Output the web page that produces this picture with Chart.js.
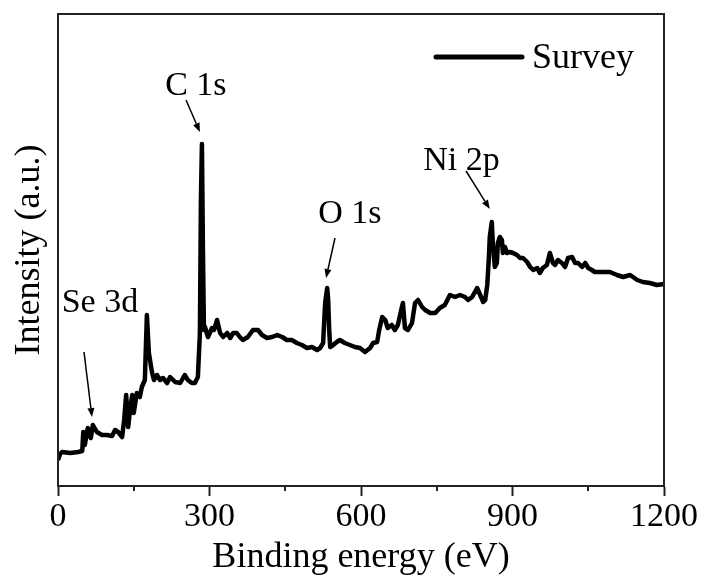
<!DOCTYPE html>
<html>
<head>
<meta charset="utf-8">
<script src="https://cdn.jsdelivr.net/npm/chart.js@4.4.1/dist/chart.umd.min.js"></script>
<style>
  html, body { margin: 0; padding: 0; background: #fff; }
</style>
</head>
<body>
<canvas id="xps" width="703" height="577"></canvas>
<script>
// ── Survey spectrum (binding energy in eV, intensity in a.u.) ──
const energy = [
  0, 4, 8, 24, 40, 48, 50, 53, 59, 65, 69, 77, 87, 97, 107, 113, 119, 127, 131, 135,
  139, 143, 147, 150, 156, 162, 166, 172, 176, 180, 186, 190, 196, 202, 208, 216, 222, 232, 242, 251,
  257, 265, 271, 277, 281, 283, 285, 287, 289, 291, 297, 305, 309, 315, 321, 327, 335, 341, 347, 354,
  360, 366, 376, 386, 396, 404, 414, 424, 434, 444, 453, 463, 473, 483, 493, 503, 513, 519, 525, 529,
  533, 535, 537, 539, 545, 552, 558, 568, 578, 588, 598, 608, 618, 624, 632, 636, 642, 648, 653, 661,
  667, 673, 681, 683, 687, 693, 701, 707, 713, 721, 727, 737, 747, 756, 766, 776, 786, 796, 806, 812,
  820, 830, 836, 842, 846, 850, 853, 855, 859, 861, 865, 869, 871, 875, 879, 881, 885, 889, 895, 901,
  909, 915, 921, 929, 935, 941, 949, 954, 960, 968, 974, 980, 984, 990, 998, 1004, 1010, 1018, 1024, 1030,
  1038, 1044, 1050, 1057, 1063, 1069, 1079, 1093, 1107, 1119, 1133, 1147, 1158, 1172, 1186, 1200
];
const intensity = [
  26, 32, 34, 33, 34, 35, 54, 41, 58, 48, 61, 54, 51, 51, 50, 56, 54, 49, 66, 91,
  59, 78, 91, 73, 93, 89, 99, 106, 171, 133, 114, 106, 111, 106, 108, 103, 109, 104, 103, 111,
  106, 103, 103, 109, 153, 286, 342, 236, 156, 159, 149, 158, 156, 166, 153, 149, 153, 148, 153, 153,
  149, 146, 149, 156, 156, 151, 148, 149, 151, 149, 146, 146, 143, 141, 138, 139, 136, 138, 143, 183,
  198, 186, 156, 139, 141, 144, 146, 143, 141, 139, 138, 134, 138, 143, 144, 156, 169, 166, 158, 161,
  156, 161, 179, 183, 158, 156, 163, 183, 186, 179, 176, 173, 173, 178, 181, 191, 189, 191, 189, 186,
  189, 198, 191, 184, 186, 201, 226, 249, 264, 243, 219, 223, 243, 249, 246, 233, 239, 233, 234, 233,
  231, 228, 228, 224, 219, 216, 218, 213, 218, 221, 233, 223, 221, 226, 223, 219, 228, 229, 223, 223,
  219, 223, 218, 216, 214, 214, 214, 214, 211, 209, 211, 206, 204, 203, 201, 202
];

const majorTicks = [0, 300, 600, 900, 1200];
const minorTicks = [150, 450, 750, 1050];
const peakNames  = ['Se 3d', 'C 1s', 'O 1s', 'Ni 2p'];
const seriesName = 'Survey';

// annotation anchors, in data units (text baseline centre, arrow tail, arrow tip)
const NOTES = [
  { text: [83, 174],  from: [51.5, 134],  to: [67.3, 69] },
  { text: [273, 391], from: [253.5, 386], to: [281, 354] },
  { text: [578, 263], from: [548.5, 248], to: [530.7, 208] },
  { text: [799, 316], from: [808, 315],   to: [855, 277] },
];

const SERIF = "'Liberation Serif', 'Times New Roman', serif";
const INK = '#000';
const AXIS = '#222';

function arrow(ctx, x0, y0, x1, y1) {
  const ang = Math.atan2(y1 - y0, x1 - x0);
  const len = 9, half = 3.5;
  const bx = x1 - len * Math.cos(ang), by = y1 - len * Math.sin(ang);
  ctx.beginPath();
  ctx.moveTo(x0, y0);
  ctx.lineTo(bx, by);
  ctx.stroke();
  ctx.beginPath();
  ctx.moveTo(x1, y1);
  ctx.lineTo(bx + half * Math.sin(ang), by - half * Math.cos(ang));
  ctx.lineTo(bx - half * Math.sin(ang), by + half * Math.cos(ang));
  ctx.closePath();
  ctx.fill();
}

// frame, minor ticks, peak labels and the inset legend
const decorations = {
  id: 'decorations',
  afterDraw(chart) {
    const { ctx, chartArea: a, scales: { x, y } } = chart;
    ctx.save();

    ctx.strokeStyle = AXIS;
    ctx.lineWidth = 2;
    ctx.strokeRect(a.left, a.top, a.right - a.left, a.bottom - a.top);

    minorTicks.forEach(v => {
      const px = Math.round(x.getPixelForValue(v));
      ctx.beginPath();
      ctx.moveTo(px, a.bottom);
      ctx.lineTo(px, a.bottom + 5);
      ctx.stroke();
    });

    ctx.fillStyle = INK;
    ctx.strokeStyle = INK;
    ctx.font = `34px ${SERIF}`;
    ctx.textAlign = 'center';
    ctx.textBaseline = 'alphabetic';
    ctx.lineWidth = 1.5;
    NOTES.forEach((n, i) => {
      ctx.fillText(peakNames[i], x.getPixelForValue(n.text[0]), y.getPixelForValue(n.text[1]));
      arrow(ctx,
        x.getPixelForValue(n.from[0]), y.getPixelForValue(n.from[1]),
        x.getPixelForValue(n.to[0]), y.getPixelForValue(n.to[1]));
    });

    // legend
    ctx.lineWidth = 5;
    ctx.lineCap = 'round';
    ctx.beginPath();
    ctx.moveTo(a.left + 378, a.top + 43);
    ctx.lineTo(a.left + 464, a.top + 43);
    ctx.stroke();
    ctx.font = `36px ${SERIF}`;
    ctx.textAlign = 'left';
    ctx.fillText(seriesName, a.left + 474, a.top + 54);

    ctx.restore();
  }
};

new Chart(document.getElementById('xps'), {
  type: 'line',
  data: {
    datasets: [{
      label: seriesName,
      data: energy.map((e, i) => ({ x: e, y: intensity[i] })),
      borderColor: INK,
      borderWidth: 4.5,
      borderJoinStyle: 'round',
      pointRadius: 0,
      tension: 0,
      fill: false,
    }],
  },
  options: {
    responsive: false,
    animation: false,
    layout: { padding: { left: 7, right: 39, top: 14, bottom: 0 } },
    plugins: { legend: { display: false }, tooltip: { enabled: false } },
    scales: {
      x: {
        type: 'linear',
        min: 0,
        max: 1200,
        afterBuildTicks: s => { s.ticks = majorTicks.map(v => ({ value: v })); },
        ticks: {
          color: INK,
          padding: 2,
          maxRotation: 0,
          callback: v => String(v),
          font: { family: SERIF, size: 34, lineHeight: 1.1 },
        },
        grid: { display: true, drawOnChartArea: false, drawTicks: true, tickLength: 10, tickWidth: 2, tickColor: AXIS },
        border: { display: true, color: AXIS, width: 2 },
        title: {
          display: true,
          text: 'Binding energy (eV)',
          color: INK,
          padding: { top: 0, bottom: 0 },
          font: { family: SERIF, size: 36, lineHeight: 1.1 },
        },
      },
      y: {
        min: 0,
        max: 472,
        ticks: { display: false },
        grid: { display: false },
        border: { display: true, color: AXIS, width: 2 },
        title: {
          display: true,
          text: 'Intensity (a.u.)',
          color: INK,
          padding: { top: 5, bottom: 2 },
          font: { family: SERIF, size: 36, lineHeight: 1.0 },
        },
      },
    },
  },
  plugins: [decorations],
});
</script>
</body>
</html>
